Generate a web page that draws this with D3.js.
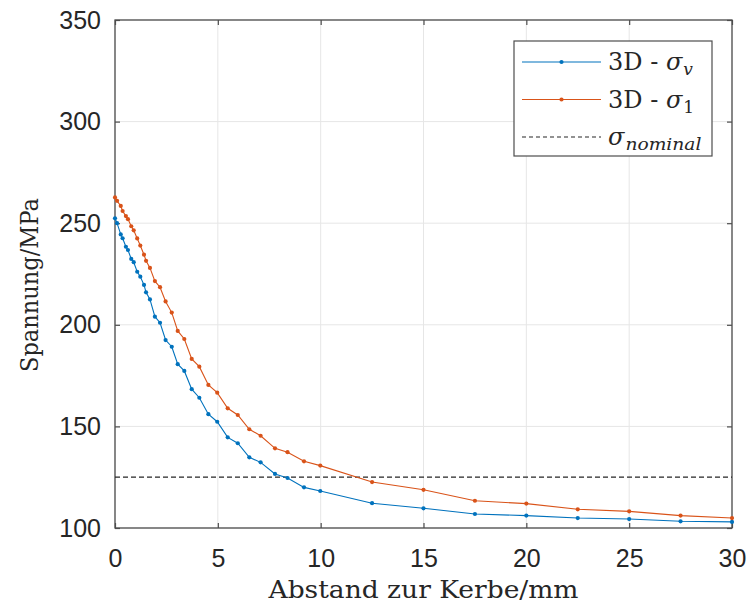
<!DOCTYPE html>
<html>
<head>
<meta charset="utf-8">
<script src="https://cdn.jsdelivr.net/npm/d3@7"></script>
<style>
  body { margin: 0; background: #fff; }
  svg text { fill: #262626; }
</style>
</head>
<body>
<div id="chart"></div>
<script>
// distance from notch (mm)
const distance = [0, 0.1, 0.28, 0.37, 0.53, 0.63, 0.79, 0.91, 1.08, 1.23, 1.41, 1.51, 1.7, 1.94, 2.19,
  2.46, 2.76, 3.05, 3.37, 3.73, 4.1, 4.54, 4.97, 5.48, 5.97, 6.53, 7.08, 7.78, 8.39, 9.19, 9.98,
  12.5, 15, 17.5, 20, 22.5, 25, 27.5, 30]
const sigmaV = [252.4, 250.0, 244.5, 242.6, 238.4, 236.8, 232.4, 230.8, 226.1, 223.7, 219.6, 216.0, 212.5, 204.0, 201.0,
  192.5, 189.2, 180.6, 177.3, 168.3, 164.1, 156.0, 152.3, 144.6, 141.7, 134.8, 132.3, 126.6, 124.6, 120.0, 118.2,
  112.2, 109.7, 106.9, 106.1, 104.9, 104.4, 103.3, 103.0]
const sigma1 = [262.7, 261.0, 258.5, 256.0, 253.5, 252.0, 248.5, 246.5, 242.5, 239.0, 234.5, 231.5, 228.0, 221.5, 218.5,
  211.5, 206.0, 197.0, 193.0, 183.2, 179.4, 170.4, 166.6, 158.9, 155.6, 148.6, 145.4, 139.2, 137.3, 132.8, 130.7,
  122.6, 118.8, 113.4, 112.0, 109.2, 108.2, 106.1, 104.9]
const sigmaNominal = 125
const xTicks = [0, 5, 10, 15, 20, 25, 30]
const yTicks = [100, 150, 200, 250, 300, 350]

const margin = { top: 20, right: 20, bottom: 79, left: 115 }
const width = 752 - margin.left - margin.right
const height = 607 - margin.top - margin.bottom

const svg = d3.select('#chart')
  .append('svg')
  .attr('width', 752)
  .attr('height', 607)
  .append('g')
  .attr('transform', 'translate(' + margin.left + ',' + margin.top + ')')

const x = d3.scaleLinear().domain([0, 30]).range([0, width])
const y = d3.scaleLinear().domain([100, 350]).range([height, 0])

// grid
svg.append('g')
  .selectAll('line.gx')
  .data(xTicks)
  .enter().append('line')
  .attr('x1', d => x(d)).attr('x2', d => x(d))
  .attr('y1', 0).attr('y2', height)
  .attr('stroke', '#e6e6e6').attr('stroke-width', 1)
svg.append('g')
  .selectAll('line.gy')
  .data(yTicks)
  .enter().append('line')
  .attr('x1', 0).attr('x2', width)
  .attr('y1', d => y(d)).attr('y2', d => y(d))
  .attr('stroke', '#e6e6e6').attr('stroke-width', 1)

// axes, ticks inward on all sides
function styleAxis (g) {
  g.select('.domain').remove()
  g.selectAll('.tick line').attr('stroke', '#4d4d4d').attr('stroke-width', 1.2)
  g.selectAll('.tick text').attr('fill', '#262626')
    .style('font-family', '"Liberation Sans", Arial, sans-serif').style('font-size', '25px')
}
svg.append('g')
  .attr('transform', 'translate(0,' + height + ')')
  .call(d3.axisBottom(x).tickValues(xTicks).tickSize(-5).tickPadding(21))
  .call(styleAxis)
svg.append('g')
  .call(d3.axisTop(x).tickValues(xTicks).tickSize(-5).tickFormat(''))
  .call(styleAxis)
svg.append('g')
  .call(d3.axisLeft(y).tickValues(yTicks).tickSize(-5).tickPadding(14))
  .call(styleAxis)
svg.append('g')
  .attr('transform', 'translate(' + width + ',0)')
  .call(d3.axisRight(y).tickValues(yTicks).tickSize(-5).tickFormat(''))
  .call(styleAxis)

svg.append('rect')
  .attr('width', width).attr('height', height)
  .attr('fill', 'none').attr('stroke', '#4d4d4d').attr('stroke-width', 1.3)

// nominal stress
svg.append('line')
  .attr('x1', x(0)).attr('x2', x(30))
  .attr('y1', y(sigmaNominal)).attr('y2', y(sigmaNominal))
  .attr('stroke', '#262626').attr('stroke-width', 1.2)
  .attr('stroke-dasharray', '5,3')

const series = [
  { values: sigmaV, color: '#0072BD' },
  { values: sigma1, color: '#D95319' }
]
const line = d3.line()
  .x((d, i) => x(distance[i]))
  .y(d => y(d))

series.forEach(function (s) {
  svg.append('path')
    .datum(s.values)
    .attr('fill', 'none')
    .attr('stroke', s.color)
    .attr('stroke-width', 1.1)
    .attr('d', line)
  svg.append('g')
    .selectAll('circle')
    .data(s.values)
    .enter().append('circle')
    .attr('cx', (d, i) => x(distance[i]))
    .attr('cy', d => y(d))
    .attr('r', 2.1)
    .attr('fill', s.color)
})

// legend
const lg = svg.append('g').attr('transform', 'translate(' + (514 - margin.left) + ',' + (41 - margin.top) + ')')
lg.append('rect')
  .attr('width', 198).attr('height', 115)
  .attr('fill', '#fff').attr('stroke', '#4d4d4d').attr('stroke-width', 1.2)

const serif = '"DejaVu Serif", "Liberation Serif", serif'
const rows = [
  { color: '#0072BD', dot: true, dash: null, prefix: '3D - ', sub: 'v', subItalic: true, subLen: null },
  { color: '#D95319', dot: true, dash: null, prefix: '3D - ', sub: '1', subItalic: false, subLen: null },
  { color: '#262626', dot: false, dash: '4,3', prefix: '', sub: 'nominal', subItalic: true, subLen: 76 }
]
rows.forEach(function (r, i) {
  const cy = 21 + i * 37.5
  lg.append('line')
    .attr('x1', 8).attr('x2', 87).attr('y1', cy).attr('y2', cy)
    .attr('stroke', r.color).attr('stroke-width', 1.1)
    .attr('stroke-dasharray', r.dash)
  if (r.dot) {
    lg.append('circle').attr('cx', 47.5).attr('cy', cy).attr('r', 2.1).attr('fill', r.color)
  }
  const t = lg.append('text')
    .attr('x', 94).attr('y', cy + 8)
    .style('font-family', serif).style('font-size', '24px')
  if (r.prefix) t.append('tspan').text(r.prefix)
  t.append('tspan').style('font-style', 'italic').text('σ')
  const w = t.node().getComputedTextLength()
  const st = lg.append('text')
    .attr('x', 94 + w + 1).attr('y', cy + 13)
    .style('font-family', serif).style('font-size', '17px')
    .style('font-style', r.subItalic ? 'italic' : 'normal')
    .text(r.sub)
  if (r.subLen) st.attr('textLength', r.subLen).attr('lengthAdjust', 'spacingAndGlyphs')
})

// axis labels
svg.append('text')
  .attr('x', width / 2).attr('y', 598 - margin.top)
  .attr('text-anchor', 'middle')
  .attr('textLength', 310).attr('lengthAdjust', 'spacingAndGlyphs')
  .style('font-family', serif).style('font-size', '24px')
  .text('Abstand zur Kerbe/mm')
svg.append('text')
  .attr('transform', 'translate(' + (-77) + ',' + (285 - margin.top) + ') rotate(-90)')
  .attr('text-anchor', 'middle')
  .attr('textLength', 174).attr('lengthAdjust', 'spacingAndGlyphs')
  .style('font-family', serif).style('font-size', '24px')
  .text('Spannung/MPa')
</script>
</body>
</html>
